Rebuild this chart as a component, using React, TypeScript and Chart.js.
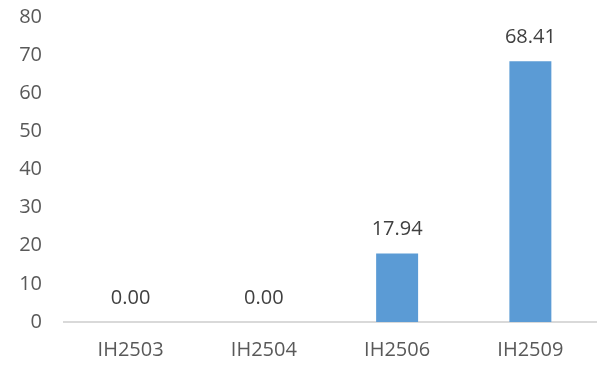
import React, { useEffect, useRef } from "react";
import { Chart, registerables } from "chart.js";

Chart.register(...registerables);

const categories = ["IH2503", "IH2504", "IH2506", "IH2509"];
const values = [0.0, 0.0, 17.94, 68.41];
const yTicks = [0, 10, 20, 30, 40, 50, 60, 70, 80];

const FONT = "'Open Sans', sans-serif";
const TEXT = "#595959";

const labelPlugin = {
  id: "valueLabels",
  afterDatasetsDraw(chart: any) {
    const ctx = chart.ctx;
    const meta = chart.getDatasetMeta(0);
    ctx.save();
    ctx.font = `20px ${FONT}`;
    ctx.fillStyle = "#404040";
    ctx.textAlign = "center";
    ctx.textBaseline = "middle";
    meta.data.forEach((bar: any, i: number) => {
      ctx.fillText(values[i].toFixed(2), bar.x, bar.y - 24);
    });
    ctx.restore();
  },
};

export default function App() {
  const ref = useRef<HTMLCanvasElement | null>(null);
  useEffect(() => {
    if (!ref.current) return;
    const chart = new Chart(ref.current, {
      type: "bar",
      data: {
        labels: categories,
        datasets: [
          {
            data: values,
            backgroundColor: "#5B9BD5",
            borderWidth: 0,
            barPercentage: 0.315,
            categoryPercentage: 1,
          },
        ],
      },
      options: {
        animation: false,
        responsive: false,
        maintainAspectRatio: false,
        layout: { padding: { left: 0, right: 0, top: 17, bottom: 0 } },
        plugins: { legend: { display: false }, tooltip: { enabled: false } },
        scales: {
          x: {
            grid: { display: false, drawTicks: false },
            border: { display: true, color: "#D9D9D9", width: 2 },
            ticks: { color: TEXT, font: { family: FONT, size: 20 }, padding: 16 },
            afterFit: (s: any) => {
              s.height = 43;
              s.paddingLeft = 0;
              s.paddingRight = 0;
            },
          },
          y: {
            min: 0,
            max: 80,
            afterBuildTicks: (axis: any) => {
              axis.ticks = yTicks.map((v) => ({ value: v }));
            },
            grid: { display: false, drawTicks: false },
            border: { display: false },
            ticks: { color: TEXT, font: { family: FONT, size: 20 }, padding: 22 },
            afterFit: (s: any) => {
              s.width = 64;
              s.paddingTop = 0;
              s.paddingBottom = 0;
            },
          },
        },
      },
      plugins: [labelPlugin],
    });
    return () => chart.destroy();
  }, []);
  return (
    <div style={{ position: "absolute", left: 0, top: 0, width: 597, height: 365, background: "#fff" }}>
      <canvas ref={ref} width={597} height={365} style={{ width: 597, height: 365 }} />
    </div>
  );
}
